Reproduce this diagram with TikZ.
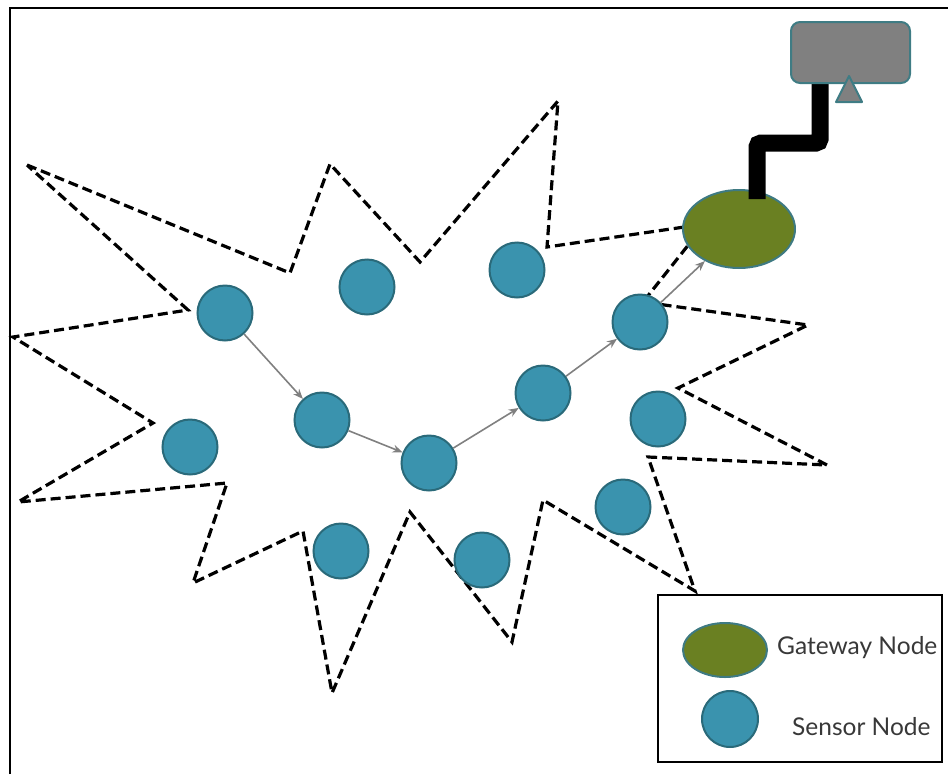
\documentclass[tikz,border=0pt]{standalone}
\usepackage{fontspec}
\setmainfont{Lato}
\usetikzlibrary{arrows.meta,shapes.geometric}
\definecolor{sensorfill}{HTML}{3A93AE}
\definecolor{sensoredge}{HTML}{2A6A7A}
\definecolor{gatefill}{HTML}{6A8022}
\definecolor{gateedge}{HTML}{3E7A82}
\definecolor{monfill}{HTML}{808080}
\definecolor{monedge}{HTML}{3F7C84}
\definecolor{linkgray}{HTML}{808080}
\begin{document}
\begin{tikzpicture}[x=1pt,y=-1pt,
  sensor/.style={circle,fill=sensorfill,draw=sensoredge,line width=2pt,minimum size=55pt,inner sep=0pt},
  gateway/.style={ellipse,fill=gatefill,draw=gateedge,line width=2pt,minimum width=112pt,minimum height=78pt,inner sep=0pt},
  monitor/.style={rectangle,rounded corners=9pt,fill=monfill,draw=monedge,line width=2pt,minimum width=119pt,minimum height=61pt,inner sep=0pt},
  stand/.style={fill=monfill,draw=monedge,line width=2pt,line join=round},
  zone/.style={draw=black,line width=3.2pt,dash pattern=on 10pt off 5pt,line join=miter,miter limit=20},
  hop/.style={draw=linkgray,line width=1.6pt,-{Stealth[length=10pt,width=8pt]}},
  cable/.style={draw=black,line width=17pt,rounded corners=4pt},
  legendbox/.style={draw=black,line width=2.2pt,minimum width=284pt,minimum height=167pt,inner sep=0pt},
  legendtext/.style={text=black!78,font=\fontsize{24.5}{28}\selectfont,anchor=west,inner sep=0pt}]

\useasboundingbox (0,0) rectangle (948,774);

% page frame (top and left edges)
\draw[line width=2pt] (10,774) -- (10,8) -- (948,8);

% coverage area of the sensor field
\draw[zone] (27,165) -- (290,273) -- (330,164) -- (420,262) -- (558,101)
  -- (547,247) -- (705,224) -- (643,302) -- (808,325) -- (678,388)
  -- (827,465) -- (648,457) -- (695,591) -- (543,500) -- (512,642)
  -- (410,512) -- (332,693) -- (303,531) -- (193,583) -- (227,483)
  -- (18,502) -- (153,423) -- (13,337) -- (188,310) -- cycle;

% sensor nodes
\node[sensor] (s1)  at (225,313) {};
\node[sensor] (s2)  at (367,287) {};
\node[sensor] (s3)  at (517,270) {};
\node[sensor] (s4)  at (190,447) {};
\node[sensor] (s5)  at (322,420) {};
\node[sensor] (s6)  at (429,463) {};
\node[sensor] (s7)  at (543,393) {};
\node[sensor] (s8)  at (640,322) {};
\node[sensor] (s9)  at (658,419) {};
\node[sensor] (s10) at (623,507) {};
\node[sensor] (s11) at (341,551) {};
\node[sensor] (s12) at (482,560) {};

% gateway
\node[gateway] (gw) at (739,229) {};

% multi-hop route to the gateway
\draw[hop] (s1) -- (s5);
\draw[hop] (s5) -- (s6);
\draw[hop] (s6) -- (s7);
\draw[hop] (s7) -- (s8);
\draw[hop] (s8) -- (gw);

% wired link to the host computer
\coordinate (plug) at (757,199);
\coordinate (jack) at (820,80);
\draw[cable] (plug) -- (757,143) -- (820,143) -- (jack);
\node[monitor] (pc) at (850.5,52.5) {};
\draw[stand] (849,76) -- (862,102) -- (836,102) -- cycle;

% legend
\node[legendbox] (legend) at (800,678.5) {};
\node[gateway,minimum width=84pt,minimum height=54pt] (lgw) at (725,650) {};
\node[sensor,minimum size=56pt] (lsn) at (730,719) {};
\node[legendtext] (lgwt) at (777,648) {Gateway Node};
\node[legendtext] (lsnt) at (792,727) {Sensor Node};
\end{tikzpicture}
\end{document}
